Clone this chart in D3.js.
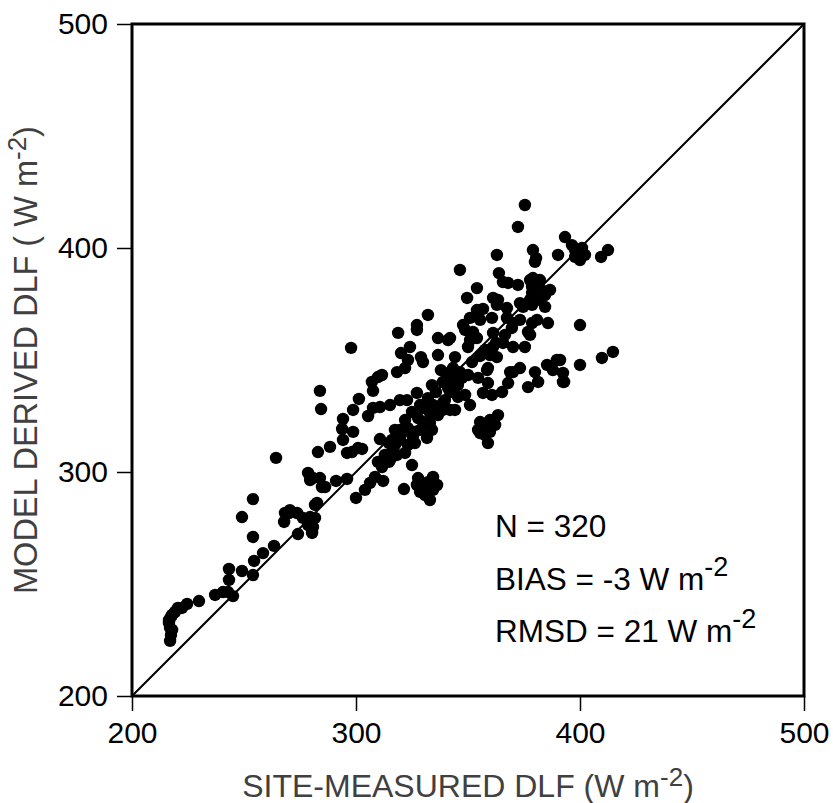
<!DOCTYPE html>
<html>
<head>
<meta charset="utf-8">
<script src="https://cdnjs.cloudflare.com/ajax/libs/d3/7.8.5/d3.min.js"></script>
<style>
  body { margin: 0; background: #fff; }
  svg { display: block; }
</style>
</head>
<body>
<div id="corpo"></div>
<script>
// site-measured DLF (x) and model derived DLF (y), W m-2
var measured = [
  217.0,217.4,217.9,216.5,216.5,217.9,219.2,220.5,222.3,224.6,229.9,237.1,240.6,242.9,245.1,243.3,243.3,249.1,254.0,254.5,
  258.5,263.4,254.0,249.1,254.0,267.9,268.3,270.1,273.7,274.1,279.5,281.7,280.4,280.8,281.7,279.5,284.8,276.3,278.6,264.3,
  318.8,327.2,336.6,341.1,297.8,320.1,324.1,329.0,329.9,336.6,318.3,321.9,337.9,309.8,307.1,307.6,333.9,338.8,283.9,327.2,
  284.4,301.3,319.6,322.8,307.6,310.7,315.2,305.4,298.7,329.9,334.4,338.8,333.0,336.2,294.2,293.8,298.7,294.2,327.7,329.9,
  333.0,323.2,328.6,333.9,325.4,288.4,283.0,296.0,300.9,310.7,316.1,320.5,316.1,318.3,321.9,315.2,311.6,325.0,278.6,280.8,
  283.9,286.2,291.1,296.0,308.5,306.3,312.1,304.0,300.0,282.6,321.4,327.2,329.9,334.4,336.2,330.8,333.0,314.7,319.6,323.2,
  326.3,331.7,314.7,355.4,358.9,
  344.2,343.3,345.1,350.0,354.5,358.9,358.9,341.1,345.5,338.8,356.7,360.7,365.2,368.8,373.2,367.9,376.8,379.9,381.3,385.3,
  389.7,387.9,392.4,392.4,400.0,409.8,414.7,355.4,359.8,363.4,354.5,359.8,
  375.4,372.3,393.3,396.4,397.8,379.0,380.4,390.2,362.9,346.4,363.8,365.6,367.9,372.3,379.0,382.1,378.6,382.1,378.6,354.0,
  349.6,361.2,363.4,377.7,373.2,354.0,356.7,362.9,367.4,374.6,378.6,384.4,332.1,327.2,350.9,347.8,355.4,360.7,367.4,370.1,
  378.6,380.8,385.7,352.2,361.2,342.0,354.0,376.8,377.7,350.0,357.6,361.2,365.6,370.1,375.4,359.8,362.9,311.6,342.0,358.5,
  370.1,
  397.8,402.2,400.0,409.4,412.5,400.0,391.1,392.9,
  342.0,345.5,348.7,350.9,344.2,347.3,340.6,
  317.4,321.9,325.0,328.6,332.1,335.7,342.9,346.4,351.8,355.4,358.9,362.5,366.5,369.6,373.2,382.1,384.4,386.6,357.6,362.1,
  357.6,327.7,332.1,334.4,328.6,339.7,342.0,336.6,330.8,326.3,319.6,317.4,312.9,309.8,350.9,348.7,377.7,379.9,399.1,400.9,
  279.5,270.5,217.0,217.4,302.7,298.2,323.2
];
var modeled = [
  224.6,227.2,229.5,232.6,233.9,236.2,237.5,239.3,239.3,241.1,242.4,245.1,246.4,246.4,244.6,251.8,256.7,255.8,254.0,260.3,
  263.8,267.0,271.0,279.9,287.9,277.7,281.7,281.7,281.7,272.3,279.9,279.5,272.8,275.4,285.3,296.4,293.3,279.5,276.3,306.3,
  362.1,363.4,359.8,358.9,355.4,353.1,355.8,351.3,349.1,352.2,344.6,346.4,345.5,342.4,340.2,336.2,338.8,340.2,336.2,335.3,
  328.1,332.6,332.1,332.1,328.6,329.0,329.9,325.0,327.7,328.6,329.9,330.8,326.3,326.3,323.7,319.2,317.9,314.3,324.1,322.3,
  321.9,319.6,318.8,318.8,315.6,311.2,308.9,308.5,310.7,314.7,314.3,317.4,308.9,307.6,308.5,305.4,302.2,303.1,299.6,297.3,
  297.3,293.3,296.0,296.9,297.8,295.1,296.0,292.0,288.4,286.2,292.4,294.2,293.3,297.8,294.2,289.7,287.5,312.9,318.8,312.1,
  312.9,315.2,304.5,317.4,312.9,
  351.3,346.4,343.3,343.3,342.0,346.4,339.7,337.5,333.5,327.7,335.3,334.4,335.7,344.6,346.4,339.7,337.9,344.6,340.2,347.8,
  350.0,345.5,344.2,340.2,347.8,350.9,353.6,322.3,323.2,325.4,318.8,317.9,
  419.2,409.4,404.9,401.3,396.0,399.1,395.5,396.9,396.9,390.2,388.8,384.8,384.4,383.5,386.6,385.7,382.6,382.1,379.9,382.1,
  377.7,377.7,376.8,376.8,375.4,372.3,372.8,374.6,373.2,373.7,374.6,373.7,370.1,365.6,368.8,365.6,367.9,368.8,368.8,366.5,
  366.5,367.9,366.5,362.5,362.1,359.8,359.8,362.5,361.2,355.8,354.5,355.8,357.6,355.8,355.8,352.2,351.3,343.3,344.6,345.5,
  344.6,
  399.1,396.9,394.6,396.0,399.1,365.6,350.0,340.2,
  335.7,338.8,334.4,329.9,327.7,342.0,342.0,
  318.8,323.2,326.8,329.9,333.0,335.7,341.1,344.6,349.1,351.8,354.5,357.6,361.2,364.3,367.9,376.8,379.0,381.3,321.0,321.0,
  316.5,297.3,295.5,292.0,291.1,332.1,327.7,325.4,321.0,317.9,314.3,312.1,307.6,304.5,358.9,363.4,385.7,393.8,396.9,400.0,
  278.6,283.0,230.4,235.3,310.3,308.9,350.0
];
var xTicks = [200, 300, 400, 500];
var yTicks = [200, 300, 400, 500];
var stats = [
  {label: "N = 320", sup: ""},
  {label: "BIAS = -3 W m", sup: "-2"},
  {label: "RMSD = 21 W m", sup: "-2"}
];

var width = 833, height = 803;
var margin = {top: 24, right: 29, bottom: 107, left: 132};
var w = width - margin.left - margin.right;
var h = height - margin.top - margin.bottom;
var font = "Liberation Sans, Arial, sans-serif";

var svg = d3.select("#corpo").append("svg")
    .attr("width", width)
    .attr("height", height);

var g = svg.append("g")
    .attr("transform", "translate(" + margin.left + "," + margin.top + ")");

var x = d3.scaleLinear().domain([200, 500]).range([0, w]);
var y = d3.scaleLinear().domain([200, 500]).range([h, 0]);

// axes
var xAxis = g.append("g")
    .attr("transform", "translate(0," + h + ")")
    .call(d3.axisBottom(x).tickValues(xTicks).tickSize(15).tickSizeOuter(0).tickPadding(11));
var yAxis = g.append("g")
    .call(d3.axisLeft(y).tickValues(yTicks).tickSize(15).tickSizeOuter(0).tickPadding(9));

[xAxis, yAxis].forEach(function(a) {
    a.select(".domain").remove();
    a.selectAll("line").attr("stroke", "#000").attr("stroke-width", 1.5);
    a.selectAll("text")
        .style("font-family", font)
        .style("font-size", "30px")
        .attr("fill", "#000");
});

// 1:1 line
g.append("line")
    .attr("x1", x(200)).attr("y1", y(200))
    .attr("x2", x(500)).attr("y2", y(500))
    .attr("stroke", "#000")
    .attr("stroke-width", 2);

// points
g.selectAll(".dot")
    .data(measured.map(function(d, i) { return {m: d, p: modeled[i]}; }))
    .enter().append("circle")
    .attr("class", "dot")
    .attr("cx", function(d) { return x(d.m); })
    .attr("cy", function(d) { return y(d.p); })
    .attr("r", 6.2)
    .attr("fill", "#000");

// frame
g.append("rect")
    .attr("width", w)
    .attr("height", h)
    .attr("fill", "none")
    .attr("stroke", "#000")
    .attr("stroke-width", 3);

// stats text
stats.forEach(function(s, i) {
    var t = g.append("text")
        .attr("x", 495 - margin.left)
        .attr("y", 537 + i * 52.5 - margin.top)
        .style("font-family", font)
        .style("font-size", "31.5px")
        .attr("fill", "#000")
        .text(s.label);
    if (s.sup) {
        t.append("tspan")
            .attr("dy", -14)
            .style("font-size", "27px")
            .text(s.sup);
    }
});

// axis titles
var xt = svg.append("text")
    .attr("x", margin.left + w / 2)
    .attr("y", 797)
    .attr("text-anchor", "middle")
    .style("font-family", font)
    .style("font-size", "32px")
    .attr("fill", "#404040")
    .text("SITE-MEASURED DLF (W m");
xt.append("tspan").attr("dy", -11).style("font-size", "26px").text("-2");
xt.append("tspan").attr("dy", 11).text(")");

var yt = svg.append("text")
    .attr("transform", "translate(37," + (margin.top + h / 2) + ") rotate(-90)")
    .attr("text-anchor", "middle")
    .style("font-family", font)
    .style("font-size", "32.5px")
    .attr("fill", "#404040")
    .text("MODEL DERIVED DLF ( W m");
yt.append("tspan").attr("dy", -11).style("font-size", "26px").text("-2");
yt.append("tspan").attr("dy", 11).text(")");
</script>
</body>
</html>
